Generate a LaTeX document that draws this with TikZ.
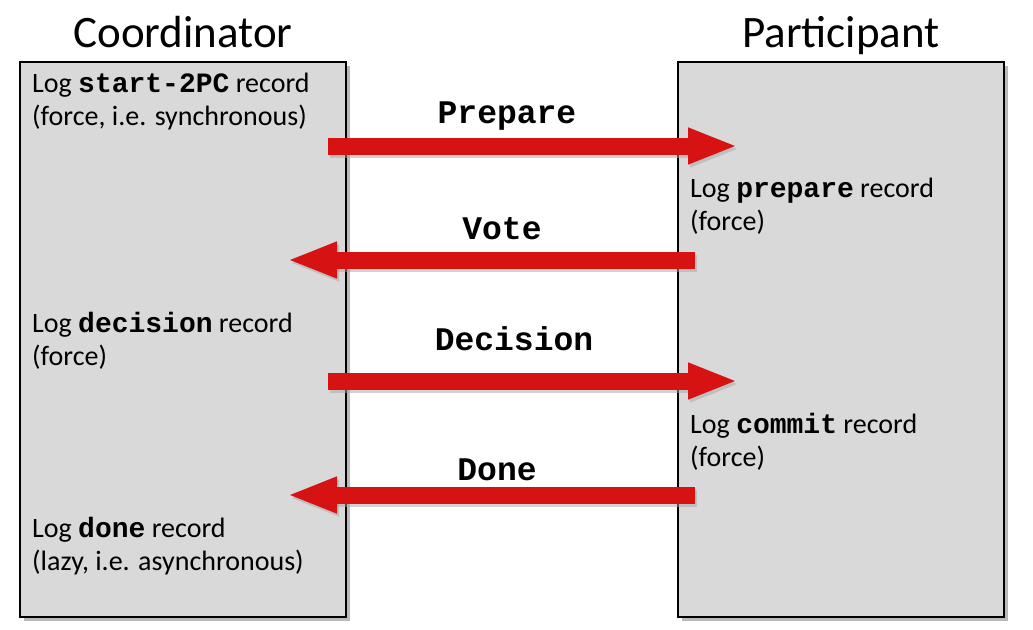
\documentclass[tikz,border=0pt]{standalone}
\usepackage{fontspec}
\setmainfont{Carlito}
\setmonofont{Liberation Mono}
\usetikzlibrary{positioning, arrows.meta, shadows}
\definecolor{lanegray}{RGB}{217,217,217}
\definecolor{msgred}{RGB}{214,18,18}
\newcommand{\logkw}[1]{\texttt{\bfseries #1}}

\begin{document}
\begin{tikzpicture}[
    x=1pt, y=-1pt,
    lane/.style={rectangle, draw=black, line width=1.5pt, fill=lanegray, minimum width=326pt, minimum height=555pt, drop shadow={shadow xshift=4pt, shadow yshift=-4pt, fill=black!45, opacity=0.6}},
    title/.style={font=\fontsize{45}{50}\selectfont, inner sep=0pt, text depth=0pt},
    note/.style={font=\fontsize{28}{33}\selectfont, align=left, anchor=base west, inner sep=0pt},
    msglabel/.style={font=\fontsize{33}{36}\selectfont\ttfamily\bfseries, anchor=base, inner sep=0pt},
    message/.style={-{Triangle[length=50pt, width=33pt]}, line width=17pt, draw=msgred},
    msgshadow/.style={message, draw=black!35, opacity=0.5}
]
    \useasboundingbox (0,0) rectangle (1033,629);

    % Lanes
    \node[lane] (coord) at (183,339.5) {};
    \node[lane] (part) at (841,339.5) {};

    % Titles
    \node[title, above=14pt of coord] (coordtitle) {Coordinator};
    \node[title, above=14pt of part] (parttitle) {Participant};

    % Coordinator log records (base = last line)
    \node[note] (logstart) at (32,125) {Log \logkw{start-2PC} record\\(force, i.e. synchronous)};
    \node[note] (logdecision) at (32,365) {Log \logkw{decision} record\\(force)};
    \node[note] (logdone) at (32,570) {Log \logkw{done} record\\(lazy, i.e. asynchronous)};

    % Participant log records
    \node[note] (logprepare) at (690,230) {Log \logkw{prepare} record\\(force)};
    \node[note] (logcommit) at (690,466) {Log \logkw{commit} record\\(force)};

    % Message end points
    \coordinate (prepare-out) at (328,146);
    \coordinate (prepare-in) at (738,146);
    \coordinate (vote-out) at (695,260);
    \coordinate (vote-in) at (287,260);
    \coordinate (decision-out) at (328,381);
    \coordinate (decision-in) at (738,381);
    \coordinate (done-out) at (695,495);
    \coordinate (done-in) at (287,495);

    % Messages
    \draw[msgshadow, transform canvas={xshift=2pt, yshift=-3pt}] (prepare-out) -- (prepare-in);
    \draw[msgshadow, transform canvas={xshift=2pt, yshift=-3pt}] (vote-out) -- (vote-in);
    \draw[msgshadow, transform canvas={xshift=2pt, yshift=-3pt}] (decision-out) -- (decision-in);
    \draw[msgshadow, transform canvas={xshift=2pt, yshift=-3pt}] (done-out) -- (done-in);
    \draw[message] (prepare-out) -- (prepare-in);
    \draw[message] (vote-out) -- (vote-in);
    \draw[message] (decision-out) -- (decision-in);
    \draw[message] (done-out) -- (done-in);

    % Message labels
    \node[msglabel] (preparelbl) at (507,123) {Prepare};
    \node[msglabel] (votelbl) at (502,239) {Vote};
    \node[msglabel] (decisionlbl) at (514,350) {Decision};
    \node[msglabel] (donelbl) at (497,480) {Done};

\end{tikzpicture}
\end{document}
